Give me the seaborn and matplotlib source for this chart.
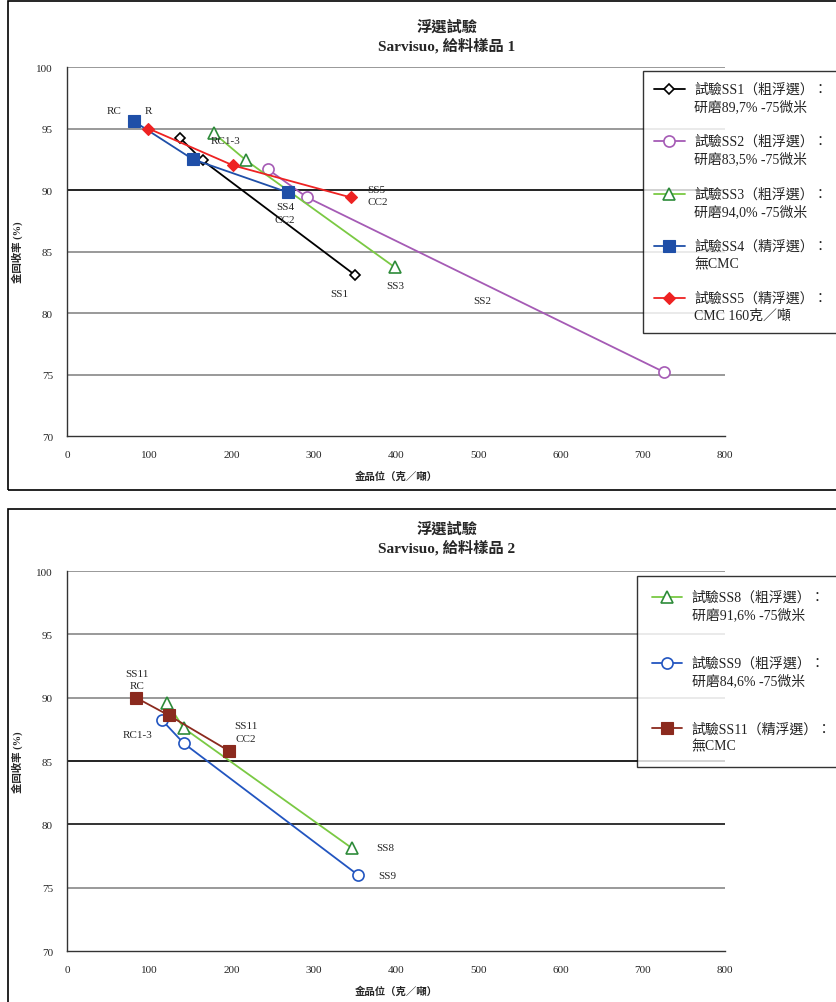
import matplotlib
matplotlib.use('Agg')
import matplotlib.pyplot as plt
from matplotlib.patches import Rectangle
import seaborn as sns
import numpy as np

# 給料樣品 1
ss1_x = [138, 165, 350]
ss1_y = [94.2, 92.4, 83.1]
ss2_x = [244, 292, 726]
ss2_y = [91.7, 89.4, 75.2]
ss3_x = [179, 218, 399]
ss3_y = [94.6, 92.4, 83.7]
ss4_x = [81, 153, 269]
ss4_y = [95.6, 92.5, 89.8]
ss5_x = [99, 202, 345]
ss5_y = [95.0, 92.0, 89.4]

# 給料樣品 2
ss8_x = [122, 142, 347]
ss8_y = [89.6, 87.6, 78.1]
ss9_x = [116, 142, 354]
ss9_y = [88.2, 86.4, 76.0]
ss11_x = [84, 124, 197]
ss11_y = [90.0, 88.6, 85.8]

labels1 = ['試驗SS1（粗浮選）：\n研磨89,7% -75微米',
           '試驗SS2（粗浮選）：\n研磨83,5% -75微米',
           '試驗SS3（粗浮選）：\n研磨94,0% -75微米',
           '試驗SS4（精浮選）：\n無CMC',
           '試驗SS5（精浮選）：\nCMC 160克／噸']
labels2 = ['試驗SS8（粗浮選）：\n研磨91,6% -75微米',
           '試驗SS9（粗浮選）：\n研磨84,6% -75微米',
           '試驗SS11（精浮選）：\n無CMC']

sns.set_style('white')
FONT = ['Liberation Serif', 'Noto Sans CJK TC', 'DejaVu Sans']
plt.rcParams['font.family'] = FONT

fig = plt.figure(figsize=(8.37, 10.03), dpi=100)

# 外框
fig.add_artist(Rectangle((8 / 837, 1 - 491 / 1003), 1.0, (491 - 2) / 1003,
                         transform=fig.transFigure, fill=False, ec='black', lw=1.2, clip_on=False))
fig.add_artist(Rectangle((8 / 837, -0.05), 1.0, 0.05 + (1003 - 510) / 1003,
                         transform=fig.transFigure, fill=False, ec='black', lw=1.2, clip_on=False))

ax1 = fig.add_axes([0.080, 0.5643, 0.786, 0.3679])
ax2 = fig.add_axes([0.080, 0.0508, 0.786, 0.3789])


def draw(ax, x, y, color, marker, label, open_marker, ms=7):
    sns.lineplot(x=x, y=y, ax=ax, sort=False, color=color, marker=marker,
                 markersize=ms, markerfacecolor='white' if open_marker else color,
                 markeredgecolor=color, markeredgewidth=1.2 if open_marker else 0.8,
                 linewidth=1.3, label=label, legend=False)


def style_axes(ax, grid_colors):
    ax.set_xlim(0, 800)
    ax.set_ylim(70, 100)
    ax.set_xticks(range(0, 801, 100))
    ax.set_yticks(range(70, 101, 5))
    for v, c in zip(range(75, 101, 5), grid_colors):
        ax.axhline(v, color=c, lw=1.4, zorder=0)
    for s in ['top', 'right']:
        ax.spines[s].set_visible(False)
    for s in ['left', 'bottom']:
        ax.spines[s].set_color('#333333')
        ax.spines[s].set_linewidth(1.0)
    ax.tick_params(axis='both', direction='out', length=4, width=1, color='#333333',
                   labelsize=8, pad=6)
    ax.set_xlabel('金品位（克／噸）', fontsize=7.5, fontweight='bold', labelpad=8)
    ax.set_ylabel('金回收率 (%)', fontsize=7.5, fontweight='bold', labelpad=10)


def make_legend(ax, n, labels, anchor, spacing, pad):
    leg = ax.legend(handles=ax.lines[:n], labels=labels, loc='upper left',
                    bbox_to_anchor=anchor, bbox_transform=fig.transFigure,
                    fontsize=10, frameon=True, fancybox=False, edgecolor='black',
                    handlelength=2.2, labelspacing=spacing, borderpad=pad,
                    handletextpad=0.7, borderaxespad=0)
    leg.get_frame().set_linewidth(1.0)
    leg.set_zorder(5)
    for t in leg.get_texts():
        t.set_linespacing(1.35)
        t.set_color('#222222')
    # 圖例符號對齊第一行文字
    for h in leg.legend_handles:
        h.set_ydata(np.asarray(h.get_ydata(), dtype=float) + 6.5)
    return leg


# 圖 1
draw(ax1, ss1_x, ss1_y, 'black', 'D', labels1[0], True, ms=5)
draw(ax1, ss2_x, ss2_y, '#a55bb5', 'o', labels1[1], True, ms=8)
draw(ax1, ss3_x, ss3_y, '#7ac943', '^', labels1[2], True, ms=8)
draw(ax1, ss4_x, ss4_y, '#1f4fa8', 's', labels1[3], False, ms=8)
draw(ax1, ss5_x, ss5_y, '#ee2222', 'D', labels1[4], False, ms=6)
# 三角形邊框用深綠
ax1.lines[2].set_markeredgecolor('#2e8b3a')
style_axes(ax1, ['#999999', '#999999', '#999999', '#222222', '#999999', '#999999'])

ann1 = [('RC', 57, 96.5, 'center'), ('R', 99, 96.5, 'center'), ('RC1-3', 193, 94.0, 'center'),
        ('SS4\nCC2', 265, 88.15, 'center'), ('SS5\nCC2', 365, 89.55, 'left'),
        ('SS1', 331, 81.6, 'center'), ('SS3', 399, 82.2, 'center'), ('SS2', 505, 81.0, 'center')]
for t, x, y, ha in ann1:
    ax1.text(x, y, t, fontsize=8, ha=ha, va='center', linespacing=1.5)

fig.text(0.534, 1 - 27 / 1003, '浮選試驗', ha='center', va='center', fontsize=11, fontweight='bold')
fig.text(0.534, 1 - 46 / 1003, 'Sarvisuo, 給料樣品 1', ha='center', va='center',
         fontsize=11, fontweight='bold')

make_legend(ax1, 5, labels1, (643 / 837, 1 - 72 / 1003), 1.55, 0.8)

# 圖 2
draw(ax2, ss8_x, ss8_y, '#7ac943', '^', labels2[0], True, ms=8)
draw(ax2, ss9_x, ss9_y, '#2255c0', 'o', labels2[1], True, ms=8)
draw(ax2, ss11_x, ss11_y, '#8b2a1e', 's', labels2[2], False, ms=8)
ax2.lines[0].set_markeredgecolor('#2e8b3a')
style_axes(ax2, ['#999999', '#333333', '#222222', '#999999', '#999999', '#999999'])

ann2 = [('SS11\nRC', 85, 91.45, 'center'), ('RC1-3', 86, 87.1, 'center'),
        ('SS11\nCC2', 218, 87.3, 'center'), ('SS8', 387, 78.2, 'center'), ('SS9', 389, 76.0, 'center')]
for t, x, y, ha in ann2:
    ax2.text(x, y, t, fontsize=8, ha=ha, va='center', linespacing=1.5)

fig.text(0.534, 1 - 529 / 1003, '浮選試驗', ha='center', va='center', fontsize=11, fontweight='bold')
fig.text(0.534, 1 - 548 / 1003, 'Sarvisuo, 給料樣品 2', ha='center', va='center',
         fontsize=11, fontweight='bold')

make_legend(ax2, 3, labels2, (637 / 837, 1 - 577 / 1003), 2.5, 1.05)

fig.savefig('out.png', dpi=100)
